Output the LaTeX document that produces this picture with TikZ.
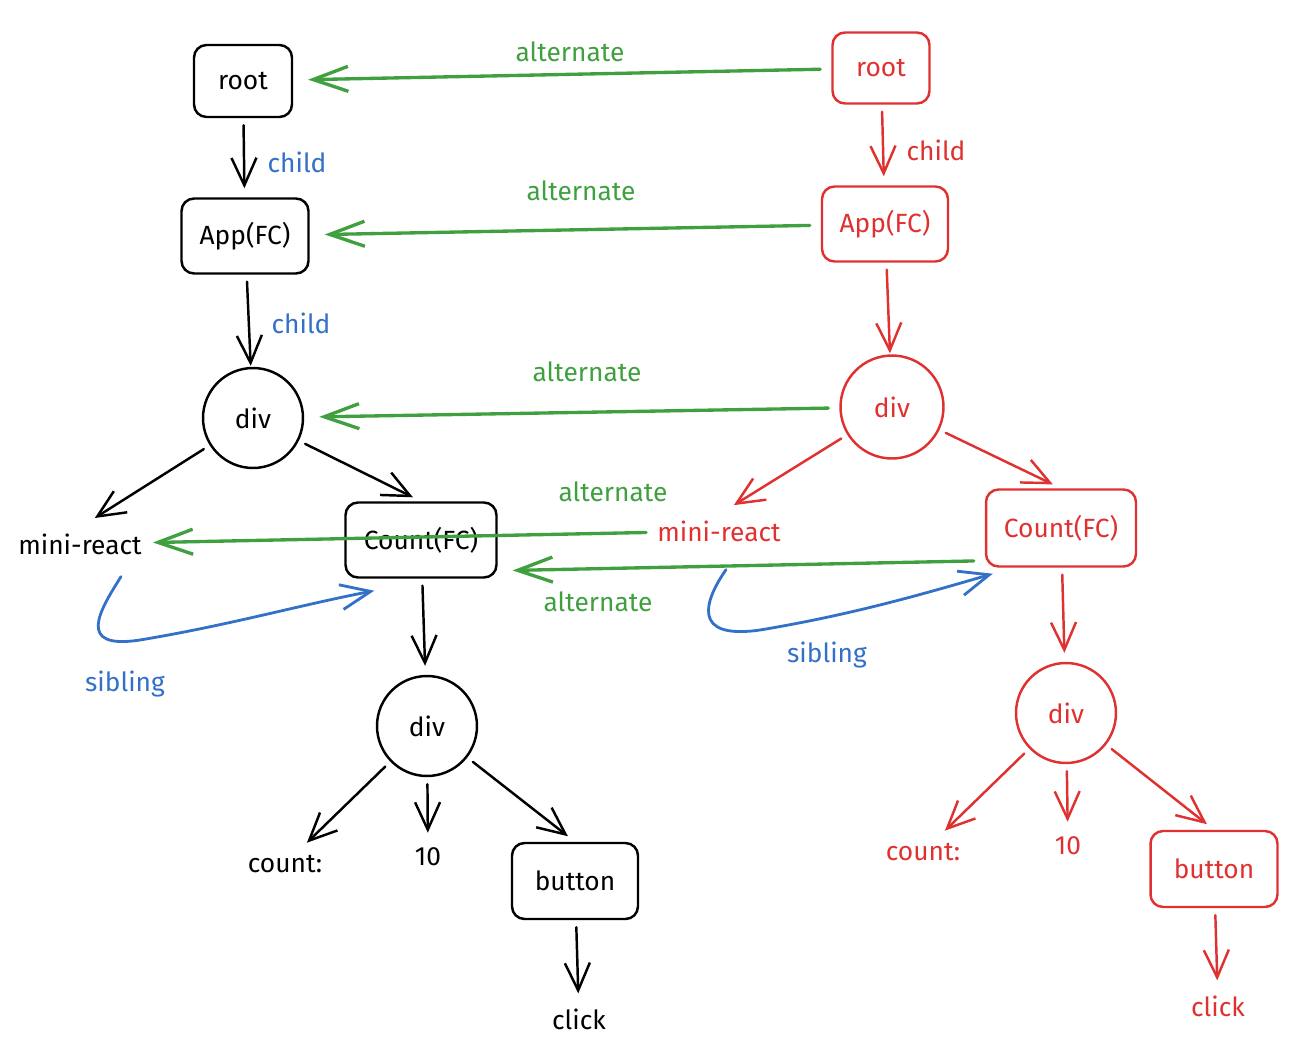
\documentclass[tikz,border=0pt]{standalone}
\usepackage{fontspec}
\setmainfont{Fira Sans}
\usetikzlibrary{arrows.meta,calc}
\definecolor{inkblack}{HTML}{1E1E1E}
\definecolor{inkred}{HTML}{E03131}
\definecolor{inkgreen}{HTML}{40A040}
\definecolor{inkblue}{HTML}{3371C8}

\begin{document}
\begin{tikzpicture}[
    x=0.02cm, y=-0.02cm,
    line cap=round, line join=round,
    box/.style={draw, rounded corners=0.25cm, line width=1.4pt, inner sep=0pt, font=\fontsize{15}{18}\selectfont},
    circ/.style={draw, circle, minimum size=2cm, line width=1.4pt, inner sep=0pt, font=\fontsize{15}{18}\selectfont},
    txt/.style={font=\fontsize{15}{18}\selectfont},
    tree/.style={line width=1.4pt, -{Straight Barb[length=0.55cm,width=0.5cm]}, shorten <=0.14cm, shorten >=0.18cm},
    alt/.style={draw=inkgreen, line width=1.9pt, -{Straight Barb[length=0.7cm,width=0.5cm]}, shorten <=0.22cm, shorten >=0.3cm},
    sib/.style={draw=inkblue, line width=1.6pt, -{Straight Barb[length=0.6cm,width=0.5cm]}},
]
    \useasboundingbox (0,0) rectangle (1296,1052);

    % Current tree
    \node[box, minimum width=1.96cm, minimum height=1.44cm] (rootL) at (243,81) {root};
    \node[box, minimum width=2.54cm, minimum height=1.5cm] (appL) at (245,236) {App(FC)};
    \node[circ] (divL) at (253,418) {div};
    \node[txt] (miniL) at (80,544) {mini-react};
    \node[box, minimum width=3.02cm, minimum height=1.5cm] (countL) at (421,540) {Count(FC)};
    \node[circ] (divLL) at (427,726) {div};
    \node[txt] (cntL) at (285,864) {count:};
    \node[txt] (tenL) at (428,857) {10};
    \node[box, minimum width=2.52cm, minimum height=1.52cm] (btnL) at (575,881) {button};
    \node[txt] (clickL) at (579,1019) {click};

    \draw[tree] (rootL) -- (appL);
    \draw[tree, shorten >=0.02cm] (appL) -- (divL);
    \draw[tree, shorten >=0.35cm] (divL) -- (miniL.north);
    \draw[tree] (divL) -- (countL.north);
    \draw[tree] (countL) -- (divLL);
    \draw[tree] (divLL) -- (cntL);
    \draw[tree] (divLL) -- (tenL);
    \draw[tree] (divLL) -- (btnL.north);
    \draw[tree] (btnL) -- (clickL);

    \node[txt, text=inkblue] (childA) at (297,162) {child};
    \node[txt, text=inkblue] (childB) at (301,323) {child};

    % Work-in-progress tree
    \begin{scope}[inkred]
    \node[box, minimum width=1.94cm, minimum height=1.42cm] (rootR) at (881,68) {root};
    \node[box, minimum width=2.52cm, minimum height=1.5cm] (appR) at (885,224) {App(FC)};
    \node[circ, minimum size=2.06cm] (divR) at (892,407) {div};
    \node[txt] (miniR) at (719,531) {mini-react};
    \node[box, minimum width=3.0cm, minimum height=1.54cm] (countR) at (1061,528) {Count(FC)};
    \node[circ] (divRR) at (1066,713) {div};
    \node[txt] (cntR) at (923,852) {count:};
    \node[txt] (tenR) at (1068,846) {10};
    \node[box, minimum width=2.54cm, minimum height=1.52cm] (btnR) at (1214,869) {button};
    \node[txt] (clickR) at (1218,1006) {click};

    \draw[tree] (rootR) -- (appR);
    \draw[tree, shorten >=0.02cm] (appR) -- (divR);
    \draw[tree, shorten >=0.35cm] (divR) -- (miniR.north);
    \draw[tree] (divR) -- (countR.north);
    \draw[tree] (countR) -- (divRR);
    \draw[tree] (divRR) -- (cntR);
    \draw[tree] (divRR) -- (tenR);
    \draw[tree] (divRR) -- (btnR.north);
    \draw[tree] (btnR) -- (clickR);

    \node[txt] (childC) at (936,150) {child};
    \end{scope}

    % Alternate links
    \draw[alt] (rootR) -- (rootL);
    \draw[alt] (appR) -- (appL);
    \draw[alt] (divR) -- (divL);
    \draw[alt, shorten <=0.1cm, shorten >=0.1cm] (miniR) -- (miniL);
    \draw[alt] ([yshift=0.14cm]countR.south west) -- ([yshift=0.16cm]countL.south east);

    \node[txt, text=inkgreen] (altA) at (570,52) {alternate};
    \node[txt, text=inkgreen] (altB) at (581,191) {alternate};
    \node[txt, text=inkgreen] (altC) at (587,372) {alternate};
    \node[txt, text=inkgreen] (altD) at (613,492) {alternate};
    \node[txt, text=inkgreen] (altE) at (598,602) {alternate};

    % Sibling links
    \draw[sib] ($(miniL.south)+(41,16)$) .. controls (100,610) and (75,650) .. (140,640)
        .. controls (230,625) and (300,605) .. ($(countL.south west)+(30,12)$);
    \draw[sib] ($(miniR.south)+(7,22)$) .. controls (705,600) and (690,640) .. (760,630)
        .. controls (850,615) and (920,595) .. ($(countR.south west)+(8,6)$);

    \node[txt, text=inkblue] (sibA) at (125,684) {sibling};
    \node[txt, text=inkblue] (sibB) at (827,655) {sibling};
\end{tikzpicture}
\end{document}
